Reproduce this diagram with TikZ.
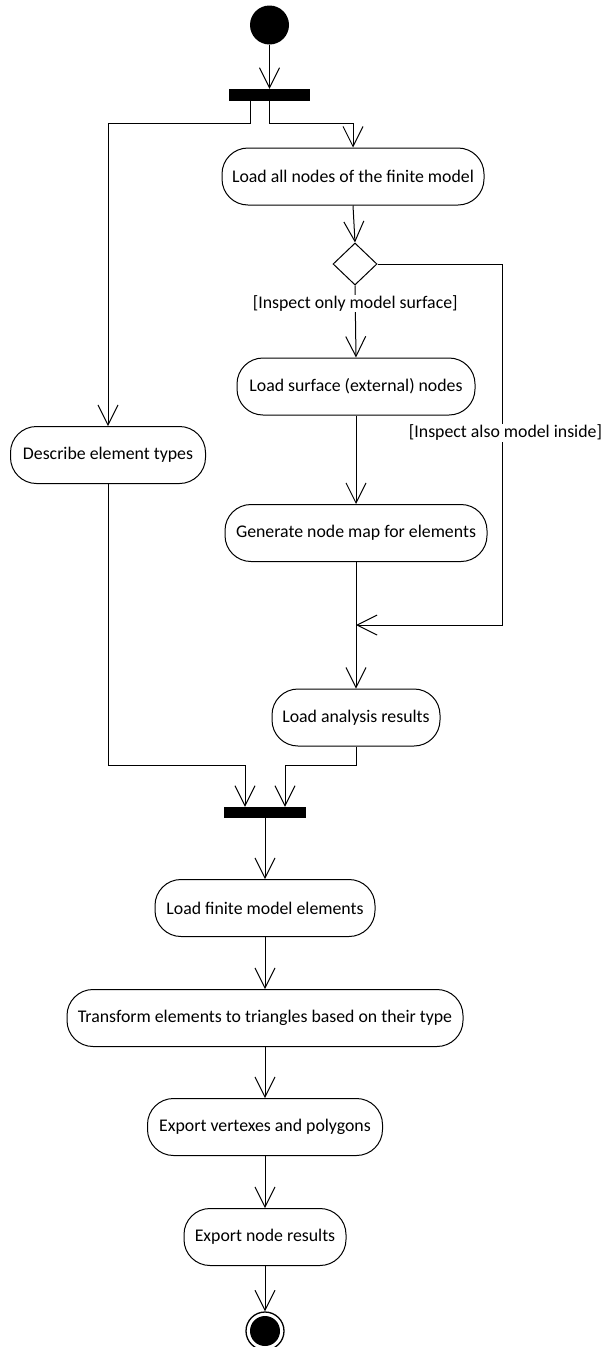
\documentclass[tikz,border=0pt]{standalone}
\usepackage{fontspec}
\setmainfont{Carlito}
\usetikzlibrary{arrows.meta,shapes.geometric,calc}
\begin{document}
\begin{tikzpicture}[x=1pt,y=-1pt,
  font=\fontsize{17.8}{21}\selectfont,
  act/.style={draw,line width=1pt,rounded corners=26pt,minimum height=57pt,inner sep=0pt,align=center},
  bar/.style={fill=black,draw=none,inner sep=0pt,rectangle},
  flow/.style={draw,line width=1pt,-{Straight Barb[length=20pt,width=20pt,line width=1pt]}},
  guard/.style={fill=white,inner sep=1pt}
]
\useasboundingbox (0,0) rectangle (611,1347);
% start
\node[circle,fill=black,minimum size=39pt,inner sep=0pt] (start) at (269.5,25) {};
\node[bar,minimum width=81pt,minimum height=12pt] (fork) at (269.5,95) {};
% activities
\node[act,minimum width=262pt] (loadall) at (353,176.5) {Load all nodes of the finite model};
\node[draw,diamond,line width=1pt,minimum width=44pt,minimum height=42pt,inner sep=0pt] (dec) at (355,264) {};
\node[act,minimum width=238pt] (surf) at (356,386.5) {Load surface (external) nodes};
\node[act,minimum width=262pt] (genmap) at (356,533) {Generate node map for elements};
\node[act,minimum width=168pt] (anal) at (356,717.5) {Load analysis results};
\node[act,minimum width=195pt] (desc) at (108,455) {Describe element types};
\node[bar,minimum width=82pt,minimum height=11pt] (join) at (265,812.5) {};
\node[act,minimum width=220pt] (loadel) at (265,908) {Load finite model elements};
\node[act,minimum width=396pt] (trans) at (265,1018) {Transform elements to triangles based on their type};
\node[act,minimum width=235pt] (expv) at (265,1127) {Export vertexes and polygons};
\node[act,minimum width=162pt] (expn) at (265,1237) {Export node results};
\node[circle,draw,line width=1.3pt,minimum size=38pt,inner sep=0pt] (end) at (265,1331) {};
\node[circle,fill=black,minimum size=30pt,inner sep=0pt] (endin) at (end.center) {};
% helper coordinates
\coordinate (forkL) at ($(fork.south)+(-19.5,0)$);
\coordinate (corner) at ($(dec.east)+(125,0)$);
\coordinate (merge) at ($(corner)+(0,361)$);
\coordinate (mergeIn) at (anal.north |- merge);
\coordinate (joinL) at ($(join.north)+(-20,0)$);
\coordinate (joinR) at ($(join.north)+(20,0)$);
% connectors
\draw[flow] (start) -- (fork);
\draw[flow] (forkL) -- ++(0,22) -| (desc.north);
\draw[flow] (fork.south) -- ++(0,22) -| (loadall.north);
\draw[flow] (loadall.south) -- (dec.north);
\draw[flow] (dec.south) -- node[guard,pos=0.25] {[Inspect only model surface]} (surf.north);
\draw[flow] (dec.east) -- (corner) -- node[guard,pos=0.468,xshift=3pt] {[Inspect also model inside]} (merge) -- (mergeIn);
\draw[flow] (surf.south) -- (genmap.north);
\draw[flow] (genmap.south) -- (anal.north);
\draw[flow] (desc.south) |- ($(joinL)+(0,-41)$) -- (joinL);
\draw[flow] (anal.south) |- ($(joinR)+(0,-41)$) -- (joinR);
\draw[flow] (join.south) -- (loadel.north);
\draw[flow] (loadel.south) -- (trans.north);
\draw[flow] (trans.south) -- (expv.north);
\draw[flow] (expv.south) -- (expn.north);
\draw[flow] (expn.south) -- (end.north);
\end{tikzpicture}
\end{document}
